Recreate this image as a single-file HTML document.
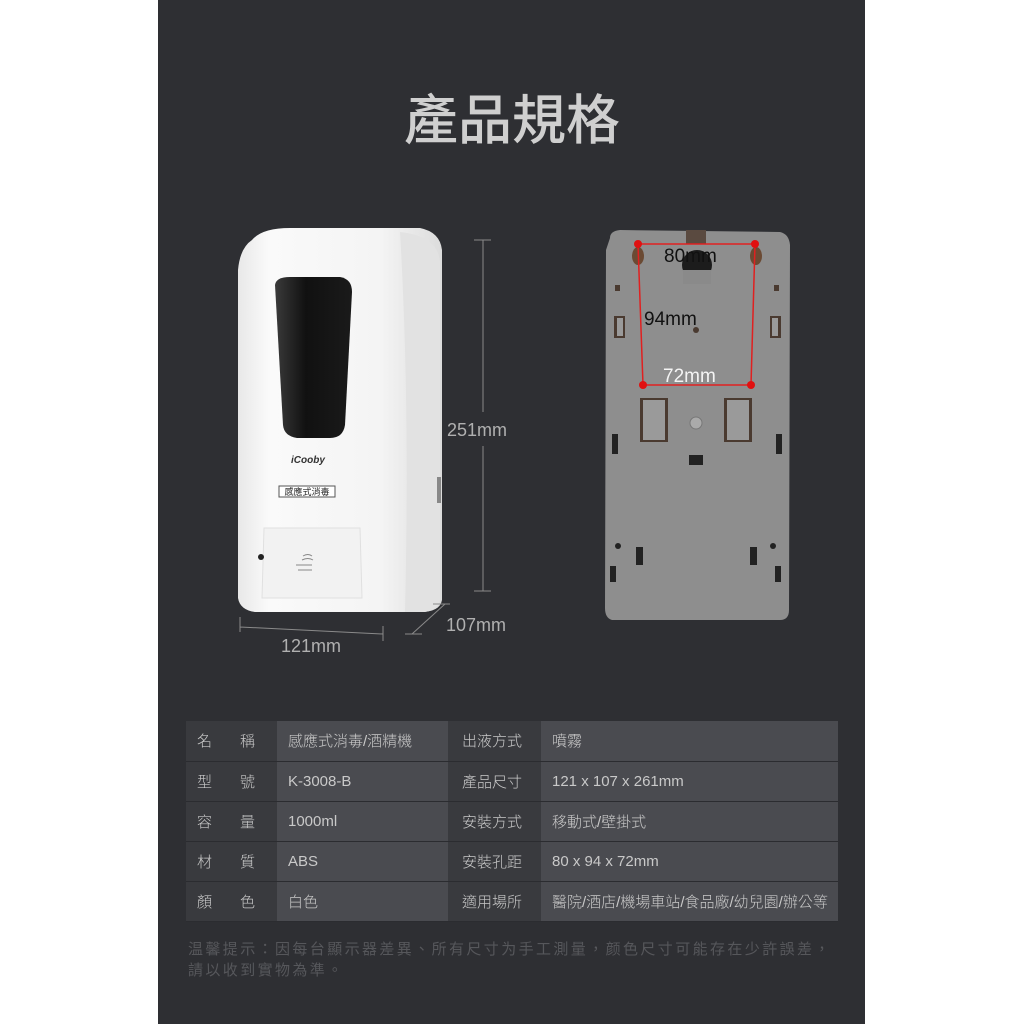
<!DOCTYPE html>
<html><head><meta charset="utf-8"><style>
*{margin:0;padding:0;box-sizing:border-box}
body{width:1024px;height:1024px;background:#fff;position:relative;overflow:hidden;font-family:"Liberation Sans","Noto Sans CJK TC",sans-serif}
#panel{position:absolute;left:158px;top:0;width:707px;height:1024px;background:#2e2f33}
.title{position:absolute;left:0;width:1024px;top:76px;text-align:center;font-size:54px;color:#cfcfcf;font-weight:500;font-family:"Noto Sans CJK TC",sans-serif}
table{position:absolute;left:186px;top:721px;border-collapse:collapse;font-family:"Liberation Sans","Noto Sans CJK TC",sans-serif;font-size:15px;color:#c9c9c9}
td{height:40px;border-bottom:1px solid #2b2c30;padding:0 0 0 11px;font-weight:300}
td.l{background:#393a3e;width:91px;letter-spacing:0}
td.v1{background:#4a4b50;width:171px}
td.l2{background:#393a3e;width:93px;padding-left:14px}
td.v2{background:#4a4b50;width:297px}
.sp{display:inline-block;width:28px}
.foot{position:absolute;left:188px;top:938px;width:700px;font-size:15px;line-height:21px;color:#56575b;letter-spacing:2.4px;font-family:"Noto Sans CJK TC",sans-serif;white-space:nowrap}
svg{position:absolute;left:0;top:0}
</style></head><body>
<div id="panel"></div>
<div class="title">產品規格</div>
<svg width="1024" height="1024">
<defs>
<linearGradient id="bd" x1="0" x2="1"><stop offset="0" stop-color="#e8e8e8"/><stop offset="0.15" stop-color="#fafafa"/><stop offset="0.7" stop-color="#f4f4f4"/><stop offset="1" stop-color="#dcdcdc"/></linearGradient>
<linearGradient id="win" x1="0" x2="1"><stop offset="0" stop-color="#3a3a3a"/><stop offset="0.4" stop-color="#111"/><stop offset="1" stop-color="#1a1a1a"/></linearGradient>
</defs>
<path d="M252,240 Q262,228 290,228 L420,228 Q440,232 442,250 L442,600 Q440,612 420,612 L255,612 Q240,610 238,598 L238,270 Q240,248 252,240Z" fill="url(#bd)"/>
<path d="M400,232 Q438,236 440,262 L440,600 Q438,610 425,612 L405,612 Q410,400 400,232Z" fill="#e2e2e2"/>
<path d="M275,285 Q276,277 290,277 L340,277 Q352,279 352,292 L345,425 Q343,438 330,438 L297,438 Q284,436 283,425Z" fill="url(#win)"/>
<path d="M264,528 L360,528 L362,598 L262,598Z" fill="#f2f2f2" stroke="#e0e0e0"/>
<rect x="279" y="486" width="56" height="11" fill="#fff" stroke="#555" stroke-width="1"/>
<text x="307" y="495" font-size="9" text-anchor="middle" fill="#222" font-family="Noto Sans CJK TC">感應式消毒</text>
<text x="291" y="463" font-size="10" font-style="italic" font-weight="bold" fill="#333" font-family="Liberation Sans">iCooby</text>
<circle cx="261" cy="557" r="3" fill="#222"/>
<path d="M296,565 h16 M298,570 h14 M303,556 q5,-3 9,0 M302,560 q6,-3 11,0" stroke="#888" fill="none" stroke-width="1"/>
<rect x="437" y="477" width="4" height="26" fill="#888"/>
<g stroke="#8a8a8a" stroke-width="1" fill="none">
<path d="M483,240 V412 M483,446 V591 M474,240 h17 M474,591 h17"/>
<path d="M240,617 v15 M383,626 v15 M240,627 L383,634"/>
<path d="M412,634 L445,604 M405,634 h17 M433,604 h17"/>
</g>
<text x="447" y="436" font-size="18" fill="#b0b0b0" font-family="Liberation Sans">251mm</text>
<text x="446" y="631" font-size="18" fill="#b0b0b0" font-family="Liberation Sans">107mm</text>
<text x="281" y="652" font-size="18" fill="#b0b0b0" font-family="Liberation Sans">121mm</text>
<path d="M610,238 Q610,231 620,230 L780,232 Q789,234 790,245 L789,610 Q789,620 780,620 L612,620 Q605,618 605,608 L606,250 Z" fill="#8e8e8e"/>
<rect x="686" y="230" width="20" height="14" fill="#5a4a40"/>
<circle cx="697" cy="265" r="15" fill="#1c1c1c"/>
<rect x="683" y="270" width="28" height="14" fill="#8a8a8a"/>
<ellipse cx="638" cy="256" rx="6" ry="9" fill="#6b4a33"/>
<ellipse cx="756" cy="256" rx="6" ry="9" fill="#6b4a33"/>
<g fill="#4a3a30">
<rect x="614" y="316" width="11" height="22"/><rect x="770" y="316" width="11" height="22"/>
<rect x="640" y="398" width="28" height="44"/><rect x="724" y="398" width="28" height="44"/>
<rect x="615" y="285" width="5" height="6"/><rect x="774" y="285" width="5" height="6"/>
</g>
<g fill="#9a9a9a"><rect x="643" y="400" width="22" height="40"/><rect x="727" y="400" width="22" height="40"/><rect x="617" y="318" width="6" height="18"/><rect x="772" y="318" width="6" height="18"/></g>
<circle cx="696" cy="423" r="6" fill="#aaa" stroke="#777"/>
<circle cx="696" cy="330" r="3" fill="#4a3a30"/>
<g fill="#222"><rect x="689" y="455" width="14" height="10"/><rect x="612" y="434" width="6" height="20"/><rect x="776" y="434" width="6" height="20"/>
<rect x="636" y="547" width="7" height="18"/><rect x="750" y="547" width="7" height="18"/><rect x="610" y="566" width="6" height="16"/><rect x="775" y="566" width="6" height="16"/>
<circle cx="618" cy="546" r="3"/><circle cx="773" cy="546" r="3"/></g>
<g stroke="#e02020" stroke-width="1.5" fill="none"><path d="M638,244 L755,244 L751,385 L643,385 Z"/></g>
<g fill="#e01010"><circle cx="638" cy="244" r="4"/><circle cx="755" cy="244" r="4"/><circle cx="643" cy="385" r="4"/><circle cx="751" cy="385" r="4"/></g>
<text x="664" y="262" font-size="19" fill="#111" font-family="Liberation Sans">80mm</text>
<text x="644" y="325" font-size="19" fill="#111" font-family="Liberation Sans">94mm</text>
<text x="663" y="382" font-size="19" fill="#f4f4f4" font-family="Liberation Sans">72mm</text>
</svg>
<table>
<tr><td class="l">名<span class="sp"></span>稱</td><td class="v1">感應式消毒/酒精機</td><td class="l2">出液方式</td><td class="v2">噴霧</td></tr>
<tr><td class="l">型<span class="sp"></span>號</td><td class="v1">K-3008-B</td><td class="l2">產品尺寸</td><td class="v2">121 x 107 x 261mm</td></tr>
<tr><td class="l">容<span class="sp"></span>量</td><td class="v1">1000ml</td><td class="l2">安裝方式</td><td class="v2">移動式/壁掛式</td></tr>
<tr><td class="l">材<span class="sp"></span>質</td><td class="v1">ABS</td><td class="l2">安裝孔距</td><td class="v2">80 x 94 x 72mm</td></tr>
<tr><td class="l">顏<span class="sp"></span>色</td><td class="v1">白色</td><td class="l2">適用場所</td><td class="v2">醫院/酒店/機場車站/食品廠/幼兒園/辦公等</td></tr>
</table>
<div class="foot">温馨提示：因每台顯示器差異、所有尺寸为手工測量，颜色尺寸可能存在少許誤差，<br>請以收到實物為準。</div>
</body></html>
